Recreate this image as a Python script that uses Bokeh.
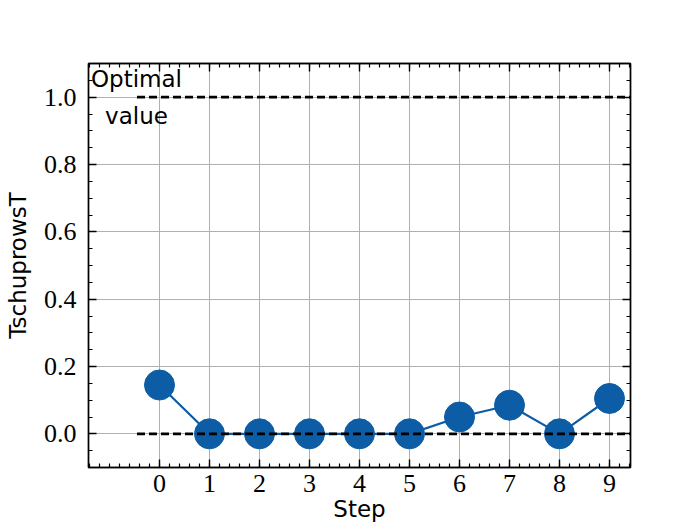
from bokeh.plotting import figure
from bokeh.models import (FixedTicker, LinearAxis, PrintfTickFormatter, Range1d,
                          ColumnDataSource, CustomJSTickFormatter)
from bokeh.core.properties import value
from bokeh.embed import file_html
from bokeh.resources import INLINE
import numpy as np

# ---- data ----
steps = [0, 1, 2, 3, 4, 5, 6, 7, 8, 9]
tschuprows_t = [0.145, 0.0, 0.0, 0.0, 0.0, 0.0, 0.05, 0.085, 0.0, 0.105]
reference_levels = [1.0, 0.0]
reference_start = [-0.45, -0.45]
reference_end = [9.5, 9.5]
annotation_text = ["Optimal\nvalue"]
annotation_x = [-0.46]
annotation_y = [1.0]
y_major = [0.0, 0.2, 0.4, 0.6, 0.8, 1.0]

BLUE = "#0C5DA5"
SERIF = "Liberation Serif"
SANS = "DejaVu Sans"

x_minor = [round(v, 2) for v in np.arange(-1.4, 9.41, 0.2)]
y_minor = [round(v, 3) for v in np.arange(-0.1, 1.101, 0.05)]

p = figure(width=700, height=525, output_backend="svg", toolbar_location=None,
           x_range=Range1d(-1.42, 9.42), y_range=Range1d(-0.1, 1.1),
           min_border_left=88, min_border_right=70, min_border_top=63,
           min_border_bottom=58, background_fill_color="white",
           border_fill_color="white")

p.outline_line_color = "black"
p.outline_line_width = 1.4

xt = FixedTicker(ticks=steps, minor_ticks=x_minor)
yt = FixedTicker(ticks=y_major, minor_ticks=y_minor)


def style_axis(ax, show_labels):
    ax.axis_line_color = "black"
    ax.axis_line_width = 1.4
    ax.major_tick_line_color = "black"
    ax.major_tick_line_width = 1.4
    ax.minor_tick_line_color = "black"
    ax.minor_tick_line_width = 1.2
    ax.major_tick_in = 8
    ax.major_tick_out = 0
    ax.minor_tick_in = 4
    ax.minor_tick_out = 0
    ax.major_label_text_font = SERIF
    ax.major_label_text_color = "black"
    ax.major_label_text_font_size = "26px"
    if not show_labels:
        ax.formatter = CustomJSTickFormatter(code="return '';")
        ax.major_label_standoff = 0


p.xaxis.ticker = xt
p.yaxis.ticker = yt
p.yaxis.formatter = PrintfTickFormatter(format="%.1f")
style_axis(p.xaxis[0], True)
style_axis(p.yaxis[0], True)
p.xaxis.major_label_standoff = 7
p.yaxis.major_label_standoff = 12

p.yaxis.axis_label = "TschuprowsT"
p.yaxis.axis_label_text_font = SANS
p.yaxis.axis_label_text_font_style = "normal"
p.yaxis.axis_label_text_font_size = "23px"
p.yaxis.axis_label_standoff = 10
p.yaxis.axis_label_text_color = "black"

p.xaxis.axis_label = "Step"
p.xaxis.axis_label_text_font = SANS
p.xaxis.axis_label_text_font_style = "normal"
p.xaxis.axis_label_text_font_size = "23px"
p.xaxis.axis_label_standoff = 1
p.xaxis.axis_label_text_color = "black"

top_ax = LinearAxis(ticker=xt)
right_ax = LinearAxis(ticker=yt)
style_axis(top_ax, False)
style_axis(right_ax, False)
p.add_layout(top_ax, "above")
p.add_layout(right_ax, "right")

p.grid.grid_line_color = "#b0b0b0"
p.grid.grid_line_width = 1.0

src = ColumnDataSource(dict(step=steps, val=tschuprows_t))
p.line("step", "val", source=src, line_color=BLUE, line_width=2.2)
p.scatter("step", "val", source=src, size=30, fill_color=BLUE, line_color=BLUE)

p.segment(x0=reference_start, x1=reference_end, y0=reference_levels,
          y1=reference_levels, line_color="black", line_width=2.8,
          line_dash="8 4")

p.text(x=annotation_x, y=annotation_y, text=annotation_text,
       text_align="center", text_baseline="middle",
       text_font=value(SANS), text_font_size="23px", text_color="black",
       text_line_height=1.43)

open("out.html", "w").write(file_html(p, INLINE))
